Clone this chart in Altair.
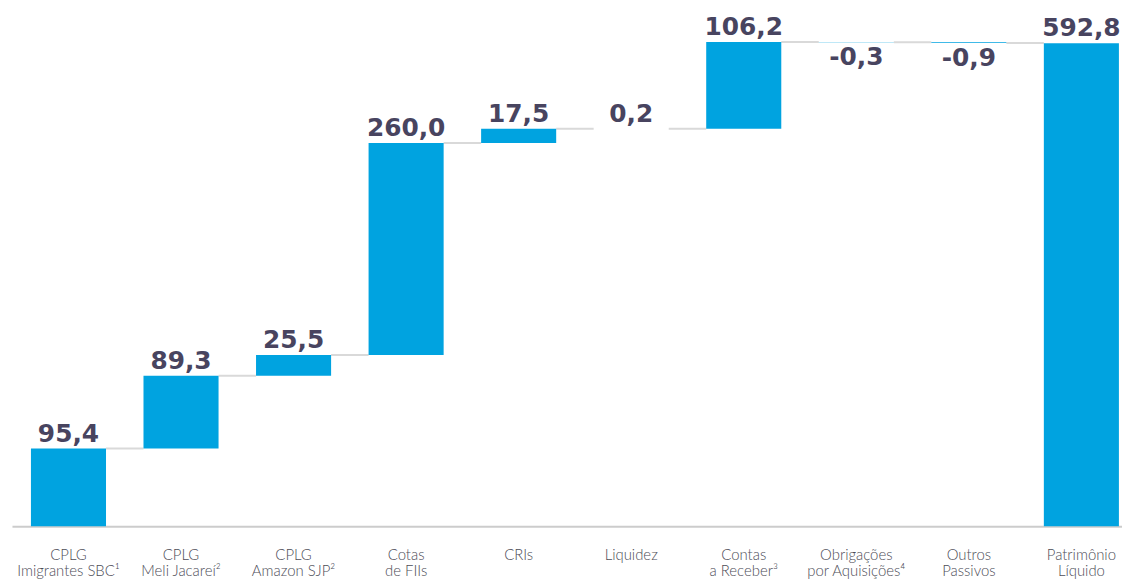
import altair as alt
import pandas as pd

categories = ["CPLG\nImigrantes SBC¹", "CPLG\nMeli Jacareí²", "CPLG\nAmazon SJP²",
              "Cotas\nde FIIs", "CRIs", "Liquidez", "Contas\na Receber³",
              "Obrigações\npor Aquisições⁴", "Outros\nPassivos", "Patrimônio\nLíquido"]
values = [95.4, 89.3, 25.5, 260.0, 17.5, 0.2, 106.2, -0.3, -0.9, 592.8]
is_total = [False, False, False, False, False, False, False, False, False, True]

rows = []
cum = 0.0
for c, v, t in zip(categories, values, is_total):
    if t:
        start, end = 0.0, v
    else:
        start, end = cum, cum + v
    cum = end
    rows.append({
        "cat": c, "value": v, "start": start, "end": end,
        "label": f"{v:.1f}".replace(".", ","),
        "pos": v >= 0,
        "ly": max(start, end) if v >= 0 else min(start, end),
    })
df = pd.DataFrame(rows)

conn = pd.DataFrame([
    {"cat": rows[i]["cat"], "next": rows[i + 1]["cat"], "level": rows[i]["end"]}
    for i in range(len(rows) - 1)
])

BLUE = "#00A3E0"
TXT = "#48445f"

xscale = alt.Scale(domain=categories, paddingInner=0.333, paddingOuter=0.098, align=0.86)
yscale = alt.Scale(domain=[0, 631], nice=False, zero=True)

xaxis = alt.Axis(labelAngle=0, ticks=False, domainColor="#cccccc", domainWidth=2,
                 labelExpr="split(datum.label, '\\n')", labelFont="Lato",
                 labelFontWeight=300, labelFontSize=15, labelColor="#4d4d57",
                 labelPadding=21, labelLineHeight=17, labelLimit=200)

connectors = alt.Chart(conn).mark_rule(color="#d9d9d9", strokeWidth=2).encode(
    x=alt.X("cat:N", sort=categories, scale=xscale, bandPosition=1, axis=xaxis, title=None),
    x2=alt.X2("next:N", bandPosition=0),
    y=alt.Y("level:Q", scale=yscale, axis=None),
)

bars = alt.Chart(df).mark_bar(color=BLUE).encode(
    x=alt.X("cat:N", sort=categories, scale=xscale, axis=xaxis, title=None),
    y=alt.Y("start:Q", scale=yscale, axis=None),
    y2="end:Q",
)

lab_pos = alt.Chart(df).transform_filter("datum.pos").mark_text(
    font="DejaVu Sans", fontWeight="bold", fontSize=25, color=TXT, baseline="alphabetic", dy=-7
).encode(
    x=alt.X("cat:N", sort=categories, scale=xscale, axis=xaxis, title=None),
    y=alt.Y("ly:Q", scale=yscale, axis=None),
    text="label:N",
)

lab_neg = alt.Chart(df).transform_filter("!datum.pos").mark_text(
    font="DejaVu Sans", fontWeight="bold", fontSize=25, color=TXT, baseline="top", dy=3
).encode(
    x=alt.X("cat:N", sort=categories, scale=xscale, axis=xaxis, title=None),
    y=alt.Y("ly:Q", scale=yscale, axis=None),
    text="label:N",
)

chart = alt.layer(connectors, bars, lab_pos, lab_neg).properties(
    width=1118, height=518,
    autosize=alt.AutoSizeParams(type="none"),
    padding={"left": 4, "top": 2, "right": 0, "bottom": 54},
).configure_view(stroke=None)

chart.save("out.html", embed_options={"renderer": "svg", "actions": False})
